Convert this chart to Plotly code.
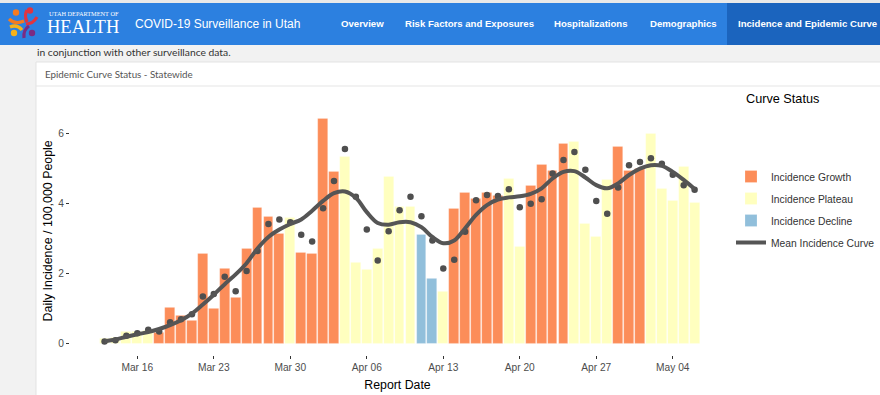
import plotly.graph_objects as go
import pandas as pd

# ---------------- data ----------------
dates = pd.date_range("2020-03-13", "2020-05-06", freq="D")

daily_incidence = [0.13, 0.17, 0.34, 0.34, 0.36, 0.30, 1.04, 0.81, 0.66, 2.58,
                   1.01, 2.13, 1.31, 2.71, 3.89, 3.64, 3.13, 3.60, 2.59, 2.56,
                   6.43, 4.91, 5.35, 2.30, 2.10, 2.71, 4.78, 3.92, 3.90, 3.10,
                   1.87, 1.49, 3.87, 4.30, 4.14, 4.30, 4.22, 4.71, 2.78, 4.50,
                   5.10, 4.93, 5.70, 5.76, 3.42, 3.05, 4.69, 5.63, 4.94, 4.99,
                   5.99, 4.43, 4.08, 5.07, 4.02]

point_values = [0.06, 0.10, 0.23, 0.30, 0.40, 0.35, 0.61, 0.70, 0.84, 1.35,
                1.42, 1.91, 1.50, 2.08, 2.65, 3.42, 3.55, 3.47, 3.11, 2.92,
                3.87, 4.65, 5.56, 4.20, 3.26, 2.38, 3.21, 3.81, 4.20, 3.64,
                2.95, 2.15, 2.40, 3.20, 4.10, 4.25, 4.22, 4.41, 3.90, 4.00,
                4.13, 4.86, 5.25, 5.48, 4.97, 4.08, 3.71, 4.46, 5.10, 5.19,
                5.30, 5.14, 4.83, 4.53, 4.40]

mean_curve = [0.07, 0.12, 0.20, 0.27, 0.33, 0.42, 0.53, 0.67, 0.86, 1.12,
              1.40, 1.70, 1.98, 2.30, 2.72, 3.05, 3.26, 3.42, 3.55, 3.80,
              4.08, 4.30, 4.35, 4.17, 3.76, 3.45, 3.40, 3.47, 3.47, 3.33,
              3.05, 2.87, 2.95, 3.30, 3.68, 3.96, 4.12, 4.18, 4.21, 4.28,
              4.44, 4.72, 4.91, 4.93, 4.75, 4.53, 4.44, 4.58, 4.82, 5.00,
              5.10, 5.08, 4.91, 4.68, 4.42]

# G = growth, P = plateau, D = decline
status = ["P", "P", "P", "P", "P", "G", "G", "G", "G", "G",
          "G", "G", "G", "G", "G", "G", "G", "P", "G", "G",
          "G", "G", "P", "P", "P", "P", "P", "P", "P", "D",
          "D", "P", "G", "G", "G", "G", "G", "P", "P", "G",
          "G", "G", "G", "P", "P", "P", "P", "G", "G", "G",
          "P", "P", "P", "P", "P"]

status_names = {"G": "Incidence Growth", "P": "Incidence Plateau", "D": "Incidence Decline"}
status_colors = {"G": "#fc8d59", "P": "#ffffbf", "D": "#91bfdb"}
tick_dates = ["2020-03-16", "2020-03-23", "2020-03-30", "2020-04-06",
              "2020-04-13", "2020-04-20", "2020-04-27", "2020-05-04"]

nav_items = ["Overview", "Risk Factors and Exposures", "Hospitalizations",
             "Demographics", "Incidence and Epidemic Curve"]
nav_centers = [362, 469, 591, 683, 807]

# ---------------- figure ----------------
W, H = 880, 395
def px(x):
    return x / W
def py(y):
    return 1 - y / H

fig = go.Figure()
DAY = 86400000
for code in ["G", "P", "D"]:
    xs = [d for d, s in zip(dates, status) if s == code]
    ys = [v for v, s in zip(daily_incidence, status) if s == code]
    fig.add_trace(go.Bar(
        x=xs, y=ys, name=status_names[code], width=0.9 * DAY,
        marker=dict(color=status_colors[code], line=dict(color="rgba(255,255,255,0.35)", width=0.6)),
        legendgroup=code,
    ))

fig.add_trace(go.Scatter(
    x=dates, y=point_values, mode="markers", showlegend=False,
    marker=dict(color="#4f4f4f", size=6.5),
))
fig.add_trace(go.Scatter(
    x=dates, y=mean_curve, mode="lines", name="Mean Incidence Curve",
    line=dict(color="#555555", width=4, shape="spline", smoothing=1.0),
    legendgroup="M",
))

font_fam = "Liberation Sans, Arial, sans-serif"
fig.update_layout(
    width=W, height=H,
    margin=dict(l=0, r=0, t=0, b=0, autoexpand=False),
    paper_bgcolor="white",
    plot_bgcolor="#ebebeb",
    barmode="overlay",
    bargap=0,
    font=dict(family=font_fam),
    xaxis=dict(
        domain=[px(70), px(725)],
        type="date", automargin=False,
        range=["2020-03-09 20:10", "2020-05-08 18:44"],
        tickvals=tick_dates,
        tickformat="%b %d",
        ticks="outside", ticklen=3, tickcolor="#333333", tickwidth=1,
        tickfont=dict(size=10.2, color="#4d4d4d", family=font_fam),
        showgrid=False, zeroline=False, showline=False,
        title=dict(text="Report Date", font=dict(size=12.3, color="black", family=font_fam), standoff=8),
    ),
    yaxis=dict(
        domain=[py(355), py(106.7)],
        range=[-0.323, 6.771], automargin=False,
        tickvals=[0, 2, 4, 6],
        ticks="outside", ticklen=3, tickcolor="#333333", tickwidth=1,
        tickfont=dict(size=10.2, color="#4d4d4d", family=font_fam),
        showgrid=False, zeroline=False, showline=False,
        title=dict(text="Daily Incidence / 100,000 People", font=dict(size=12.4, color="black", family=font_fam), standoff=2),
    ),
    legend=dict(
        x=px(731), y=py(162), xanchor="left", yanchor="top",
        font=dict(size=10.3, color="#333333", family=font_fam),
        bgcolor="rgba(0,0,0,0)", tracegroupgap=3,
        itemwidth=30,
    ),
)

shapes = []
ann = []
# page background
shapes.append(dict(type="rect", xref="paper", yref="paper", x0=0, x1=1, y0=0, y1=1,
                   fillcolor="#f2f2f2", line=dict(width=0), layer="below"))
# card
shapes.append(dict(type="rect", xref="paper", yref="paper", x0=px(36), x1=1.01, y0=-0.01, y1=py(62),
                   fillcolor="white", line=dict(color="#e3e3e3", width=1), layer="below"))
shapes.append(dict(type="line", xref="paper", yref="paper", x0=px(36), x1=1, y0=py(86), y1=py(86),
                   line=dict(color="#e6e6e6", width=1.2), layer="below"))
# header bar
shapes.append(dict(type="rect", xref="paper", yref="paper", x0=0, x1=1, y0=py(45), y1=py(3),
                   fillcolor="#2c80e0", line=dict(width=0), layer="below"))
shapes.append(dict(type="rect", xref="paper", yref="paper", x0=px(727), x1=1, y0=py(45), y1=py(3),
                   fillcolor="#1b64be", line=dict(width=0), layer="below"))
shapes.append(dict(type="rect", xref="paper", yref="paper", x0=0, x1=1, y0=py(3), y1=1,
                   fillcolor="#e9e9e9", line=dict(width=0), layer="below"))

# logo: four figures
def circ(cx, cy, r, col):
    return dict(type="circle", xref="paper", yref="paper", x0=px(cx - r), x1=px(cx + r),
                y0=py(cy + r), y1=py(cy - r), fillcolor=col, line=dict(width=0), layer="above")
def arc(path_pts, col):
    (x0, y0), (xc, yc), (x1, y1) = path_pts
    p = f"M {px(x0)},{py(y0)} Q {px(xc)},{py(yc)} {px(x1)},{py(y1)}"
    return dict(type="path", xref="paper", yref="paper", path=p,
                line=dict(color=col, width=3.2), layer="above")
shapes += [
    circ(16, 12.5, 3.2, "#f47b20"), arc([(9, 19), (15, 25), (24, 21)], "#f47b20"),
    circ(30, 10.5, 3.2, "#e2343f"), arc([(27, 22), (24, 15), (27, 10)], "#e2343f"),
    arc([(37, 17), (33, 24), (26, 24)], "#e2343f"),
    circ(14, 33, 3.2, "#f6b21b"), arc([(10, 27), (17, 24), (22, 30)], "#f6b21b"),
    circ(32, 33, 3.2, "#7b2b83"), arc([(24, 38), (23, 30), (29, 26)], "#7b2b83"),
]
ann.append(dict(text="UTAH DEPARTMENT OF", x=px(47), y=py(13.5), xref="paper", yref="paper",
                xanchor="left", yanchor="middle", showarrow=False,
                font=dict(family="Liberation Serif, DejaVu Serif, serif", size=6.3, color="white")))
ann.append(dict(text="HEALTH", x=px(45), y=py(27), xref="paper", yref="paper",
                xanchor="left", yanchor="middle", showarrow=False,
                font=dict(family="Liberation Serif, DejaVu Serif, serif", size=18.5, color="white")))
ann.append(dict(text="COVID-19 Surveillance in Utah", x=px(133), y=py(24), xref="paper", yref="paper",
                xanchor="left", yanchor="middle", showarrow=False,
                font=dict(family="Liberation Sans, Arial, sans-serif", size=12, color="white")))
for t, c in zip(nav_items, nav_centers):
    ann.append(dict(text=f"<b>{t}</b>", x=px(c), y=py(24), xref="paper", yref="paper",
                    xanchor="center", yanchor="middle", showarrow=False,
                    font=dict(family="Liberation Sans, Arial, sans-serif", size=9.6, color="white")))
ann.append(dict(text="in conjunction with other surveillance data.", x=px(35), y=py(52), xref="paper", yref="paper",
                xanchor="left", yanchor="middle", showarrow=False,
                font=dict(family="Lato, sans-serif", size=10.3, color="#333333")))
ann.append(dict(text="Epidemic Curve Status - Statewide", x=px(43), y=py(74), xref="paper", yref="paper",
                xanchor="left", yanchor="middle", showarrow=False,
                font=dict(family="Lato, sans-serif", size=9.8, color="#555555")))
ann.append(dict(text="Curve Status", x=px(744), y=py(99), xref="paper", yref="paper",
                xanchor="left", yanchor="middle", showarrow=False,
                font=dict(family=font_fam, size=12.7, color="black")))

fig.update_layout(shapes=shapes, annotations=ann)
fig.write_html("out.html", config={"displayModeBar": False},
               post_script="document.body.style.margin='0px';document.body.style.overflow='hidden';")
